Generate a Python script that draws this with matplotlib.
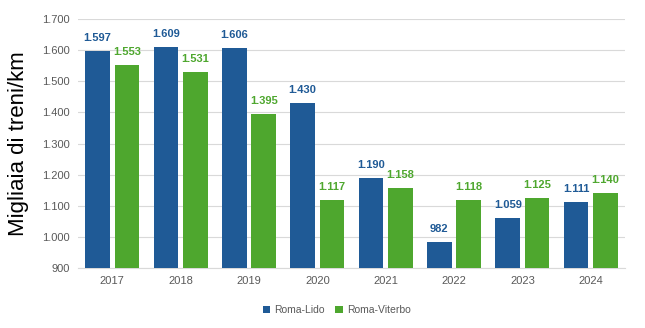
import matplotlib
matplotlib.use("Agg")
import matplotlib.pyplot as plt
import numpy as np

years = ["2017", "2018", "2019", "2020", "2021", "2022", "2023", "2024"]
roma_lido = [1597, 1609, 1606, 1430, 1190, 982, 1059, 1111]
roma_viterbo = [1553, 1531, 1395, 1117, 1158, 1118, 1125, 1140]
series_names = ["Roma-Lido", "Roma-Viterbo"]
yticks = [900, 1000, 1100, 1200, 1300, 1400, 1500, 1600, 1700]

blue = "#1f5a96"
green = "#4ea72e"
gray = "#595959"

def fmt(v):
    return f"{v:,}".replace(",", ".")

plt.rcParams['font.family'] = ['Liberation Sans', 'DejaVu Sans']

fig = plt.figure(figsize=(6.45, 3.28), dpi=100)
ax = fig.add_axes([0.121, 0.183, 0.848, 0.759])

x = np.arange(len(years))
w = 0.36
off = 0.215
b1 = ax.bar(x - off, roma_lido, w, color=blue, label=series_names[0], zorder=3)
b2 = ax.bar(x + off, roma_viterbo, w, color=green, label=series_names[1], zorder=3)

for xi, v in zip(x - off, roma_lido):
    ax.text(xi, v + 26, fmt(v), ha="center", va="bottom", fontsize=8,
            fontweight="bold", color=blue)
for xi, v in zip(x + off, roma_viterbo):
    ax.text(xi, v + 26, fmt(v), ha="center", va="bottom", fontsize=8,
            fontweight="bold", color=green)

ax.set_ylim(900, 1700)
ax.set_xlim(-0.5, len(years) - 0.5)
ax.set_yticks(yticks)
ax.set_yticklabels([fmt(t) for t in yticks])
ax.set_xticks(x)
ax.set_xticklabels(years)
ax.tick_params(axis="both", length=0, labelsize=8, labelcolor=gray, pad=6)
ax.grid(axis="y", color="#d9d9d9", linewidth=0.8, zorder=0)
for s in ["top", "right", "left"]:
    ax.spines[s].set_visible(False)
ax.spines["bottom"].set_color("#d9d9d9")

ax.set_ylabel("Migliaia di treni/km", fontsize=16, color="black", labelpad=9)

leg = fig.legend(handles=[b1, b2], labels=series_names, loc="center",
                 bbox_to_anchor=(0.522, 0.055), ncol=2, frameon=False,
                 fontsize=7.5, handlelength=0.7, handleheight=0.7,
                 handletextpad=0.4, columnspacing=1.0)
for t in leg.get_texts():
    t.set_color(gray)

fig.savefig("out.png", dpi=100)
